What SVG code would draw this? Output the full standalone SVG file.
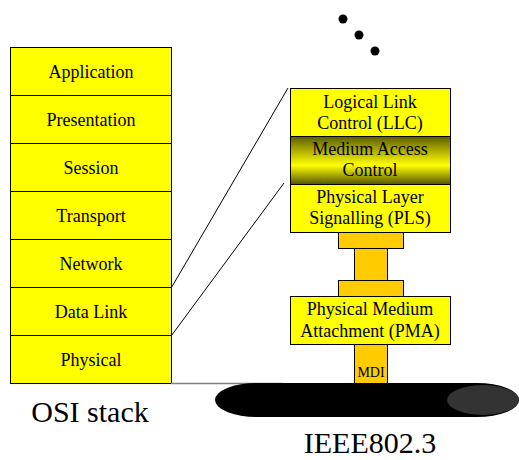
<svg xmlns="http://www.w3.org/2000/svg" width="519" height="460" viewBox="0 0 519 460">
<style>
text{font-family:"Liberation Serif","DejaVu Serif",serif;fill:#000;text-anchor:middle}
.lbl{font-size:18px}
.big{font-size:30px}
.mdi{font-size:14px}
.y{fill:#ffff00;stroke:#000;stroke-width:1}
.o{fill:#ffcc00;stroke:#000;stroke-width:1}
.conn{stroke:#000;stroke-width:1;fill:none}
</style>
<defs>
<linearGradient id="mac" x1="0" y1="0" x2="0" y2="1">
<stop offset="0" stop-color="#5e5e00"/>
<stop offset="0.6" stop-color="#ffff00"/>
<stop offset="1" stop-color="#555500"/>
</linearGradient>
</defs>
<rect width="519" height="460" fill="#fff"/>
<g id="osi" font-family="Liberation Serif, DejaVu Serif, serif">
<g id="application"><rect class="y" x="10.5" y="47.5" width="161" height="48"/><text class="lbl" x="91" y="78">Application</text></g>
<g id="presentation"><rect class="y" x="10.5" y="95.5" width="161" height="48"/><text class="lbl" x="91" y="126">Presentation</text></g>
<g id="session"><rect class="y" x="10.5" y="143.5" width="161" height="48"/><text class="lbl" x="91" y="174">Session</text></g>
<g id="transport"><rect class="y" x="10.5" y="191.5" width="161" height="48"/><text class="lbl" x="91" y="222">Transport</text></g>
<g id="network"><rect class="y" x="10.5" y="239.5" width="161" height="48"/><text class="lbl" x="91" y="270">Network</text></g>
<g id="datalink"><rect class="y" x="10.5" y="287.5" width="161" height="48"/><text class="lbl" x="91" y="318">Data Link</text></g>
<g id="physical"><rect class="y" x="10.5" y="335.5" width="161" height="48"/><text class="lbl" x="91" y="366">Physical</text></g>
<text id="osi-title" class="big" x="90" y="422">OSI stack</text>
</g>
<g id="connectors">
<line class="conn" x1="171.5" y1="287.5" x2="288" y2="88"/>
<line class="conn" x1="171.5" y1="335.5" x2="284" y2="183"/>
<line x1="171" y1="383.5" x2="283" y2="383.5" stroke="#808080" stroke-width="1.5"/>
</g>
<g id="cable">
<ellipse cx="257" cy="400" rx="42" ry="17" fill="#000"/>
<rect x="257" y="383" width="220" height="34" fill="#000"/>
<ellipse cx="477" cy="400" rx="42" ry="17" fill="#000"/>
<ellipse cx="483" cy="400" rx="36" ry="15" fill="#333"/>
</g>
<g id="ieee" font-family="Liberation Serif, DejaVu Serif, serif">
<g id="llc"><rect class="y" x="290.5" y="88.5" width="160" height="48"/><text class="lbl" x="370" y="108">Logical Link</text><text class="lbl" x="370" y="129">Control (LLC)</text></g>
<g id="mac-node"><rect x="290.5" y="136.5" width="160" height="48" fill="url(#mac)" stroke="#000"/><text class="lbl" x="370" y="155">Medium Access</text><text class="lbl" x="370" y="176">Control</text></g>
<g id="pls"><rect class="y" x="290.5" y="184.5" width="160" height="48"/><text class="lbl" x="370" y="203">Physical Layer</text><text class="lbl" x="370" y="224">Signalling (PLS)</text></g>
<g id="aui">
<rect class="o" x="338.5" y="232.5" width="65" height="16"/>
<rect class="o" x="354.5" y="248.5" width="33" height="32"/>
<rect class="o" x="338.5" y="280.5" width="65" height="16"/>
</g>
<g id="pma"><rect class="y" x="290.5" y="296.5" width="160" height="48"/><text class="lbl" x="370" y="315">Physical Medium</text><text class="lbl" x="370" y="337">Attachment (PMA)</text></g>
<g id="mdi"><rect class="o" x="354.5" y="344.5" width="33" height="39"/><text class="mdi" x="371" y="377">MDI</text></g>
<text id="ieee-title" class="big" x="370" y="453">IEEE802.3</text>
</g>
<g id="dots" fill="#000">
<circle cx="343" cy="19" r="4.5"/>
<circle cx="359" cy="35" r="4.5"/>
<circle cx="375" cy="51" r="4.5"/>
</g>
</svg>
